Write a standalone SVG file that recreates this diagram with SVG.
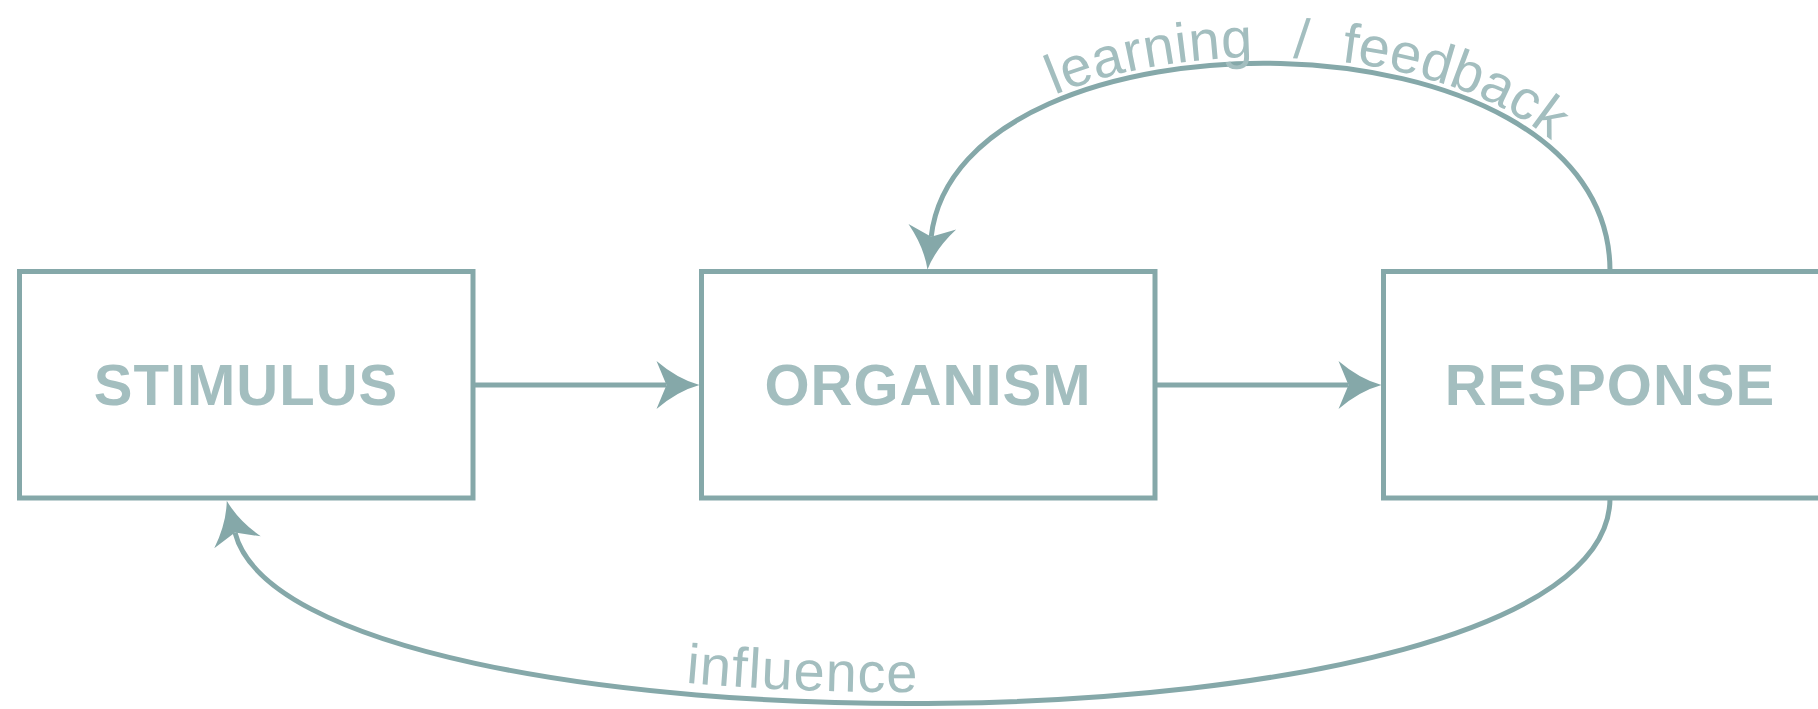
<svg xmlns="http://www.w3.org/2000/svg" xmlns:xlink="http://www.w3.org/1999/xlink" width="1818" height="709" viewBox="0 0 1818 709">
  <style>
    .box { fill: #ffffff; stroke: #85a8a9; stroke-width: 5; }
    .title { font-family: "Liberation Sans", Arial, sans-serif; font-weight: bold; font-size: 58px; letter-spacing: 1px; fill: #a3bebf; text-anchor: middle; }
    .edge { fill: none; stroke: #85a8a9; stroke-width: 5; }
    .elabel { font-family: "Liberation Sans", Arial, sans-serif; font-size: 56px; fill: #a3bebf; }
  </style>
  <defs>
    <marker id="arrow" markerUnits="userSpaceOnUse" orient="auto" viewBox="-45 -26 48 52" refX="-33" refY="0" markerWidth="48" markerHeight="52">
      <path d="M0,0 Q-22,-6 -43,-24 L-33,0 L-43,24 Q-22,6 0,0 Z" fill="#85a8a9"/>
    </marker>
    <path id="topText" d="M925.2,236 C952.9,-8 1616,-8 1616,271"/>
    <path id="bottomText" d="M245.6,529.9 C302.8,751.3 1599,751.3 1599,498"/>
  </defs>
  <rect width="1818" height="709" fill="#ffffff"/>

  <g id="connectors">
    <path class="edge" d="M473,385 L666.5,385" marker-end="url(#arrow)"/>
    <path class="edge" d="M1155,385 L1348.5,385" marker-end="url(#arrow)"/>
    <path class="edge" d="M1610,271 C1610,0 958,0 931.2,236.7" marker-end="url(#arrow)"/>
    <path class="edge" d="M1610,498 C1610,766 295,766 235,532.6" marker-end="url(#arrow)"/>
    <text class="elabel" letter-spacing="0.5"><textPath xlink:href="#topText" href="#topText" startOffset="201">learning</textPath></text>
    <text class="elabel"><textPath xlink:href="#topText" href="#topText" startOffset="444">/</textPath></text>
    <text class="elabel"><textPath xlink:href="#topText" href="#topText" startOffset="492">feedback</textPath></text>
    <text class="elabel" letter-spacing="1"><textPath xlink:href="#bottomText" href="#bottomText" startOffset="483">influence</textPath></text>
  </g>

  <g id="stimulus">
    <rect class="box" x="19.5" y="271.5" width="453.5" height="226.5"/>
    <text class="title" x="246" y="405">STIMULUS</text>
  </g>
  <g id="organism">
    <rect class="box" x="701.5" y="271.5" width="453.5" height="226.5"/>
    <text class="title" x="928" y="405">ORGANISM</text>
  </g>
  <g id="response">
    <rect class="box" x="1383.5" y="271.5" width="453.5" height="226.5"/>
    <text class="title" x="1610" y="405">RESPONSE</text>
  </g>
</svg>
